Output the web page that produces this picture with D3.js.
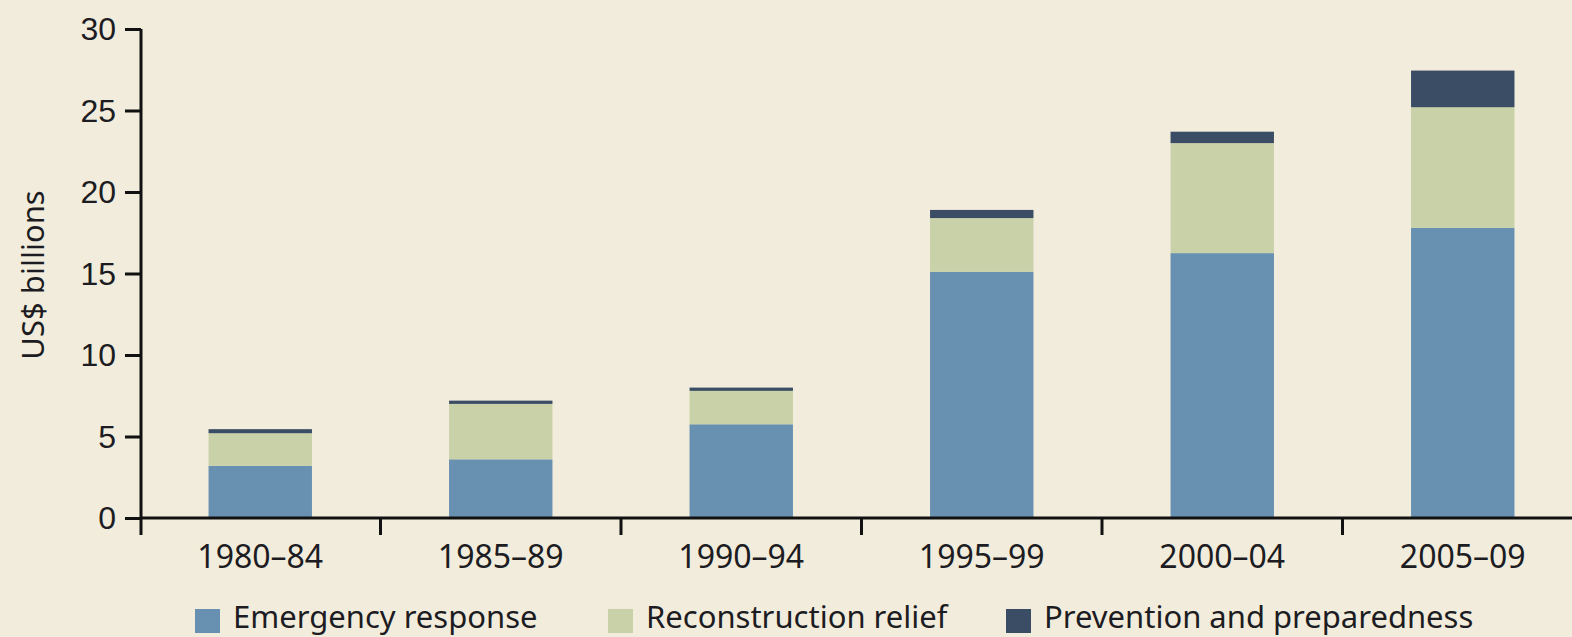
<!DOCTYPE html>
<html>
<head>
<meta charset="utf-8">
<script src="https://cdn.jsdelivr.net/npm/d3@7"></script>
<style>
  html, body { margin: 0; padding: 0; background: #f2ecdc; }
  svg { display: block; font-family: "Noto Sans", sans-serif; }
</style>
</head>
<body>
<div id="chart"></div>
<script>
const periods = ['1980–84', '1985–89', '1990–94', '1995–99', '2000–04', '2005–09']
const emergency = [3.2, 3.6, 5.75, 15.1, 16.25, 17.8]
const reconstruction = [2.0, 3.4, 2.05, 3.3, 6.75, 7.4]
const prevention = [0.25, 0.2, 0.2, 0.5, 0.7, 2.25]
const seriesNames = ['Emergency response', 'Reconstruction relief', 'Prevention and preparedness']
const yTicks = [0, 5, 10, 15, 20, 25, 30]

const W = 1572
const H = 637
const colors = ['#6890b0', '#c9d1a9', '#3a4d64']
const ink = '#1c1c22'

const svg = d3.select('#chart')
  .append('svg')
  .attr('width', W)
  .attr('height', H)

svg.append('rect').attr('width', W).attr('height', H).attr('fill', '#f2ecdc')

const x = d3.scaleBand()
  .domain(periods)
  .range([140, 140 + 240.5 * periods.length])
  .paddingInner(0.57)
  .paddingOuter(0.285)

const y = d3.scaleLinear()
  .domain([0, 30])
  .range([518, 29])

const rows = periods.map((p, i) => ({
  period: p,
  e: emergency[i],
  r: reconstruction[i],
  p: prevention[i]
}))
const stacked = d3.stack().keys(['e', 'r', 'p'])(rows)

svg.append('g')
  .selectAll('g')
  .data(stacked)
  .join('g')
  .attr('fill', (d, i) => colors[i])
  .selectAll('rect')
  .data(d => d)
  .join('rect')
  .attr('x', d => x(d.data.period))
  .attr('width', x.bandwidth())
  .attr('y', d => y(d[1]))
  .attr('height', d => y(d[0]) - y(d[1]))

// y axis
const yAxis = svg.append('g')
  .attr('transform', 'translate(141,0)')
  .call(d3.axisLeft(y).tickValues(yTicks).tickSize(16).tickPadding(9))
yAxis.select('.domain').attr('d', `M0,${y(30)}V535`).attr('stroke', '#111').attr('stroke-width', 3)
yAxis.selectAll('.tick line').attr('stroke', '#111').attr('stroke-width', 3)
yAxis.selectAll('text')
  .attr('font-size', 32)
  .attr('fill', ink)
  .attr('dy', '0.34em')

// x axis line and boundary ticks
const xAxis = svg.append('g')
xAxis.append('line')
  .attr('x1', 141).attr('x2', W)
  .attr('y1', y(0)).attr('y2', y(0))
  .attr('stroke', '#111').attr('stroke-width', 3)
const step = x.step()
xAxis.selectAll('.bt')
  .data(periods.slice(0, -1))
  .join('line')
  .attr('class', 'bt')
  .attr('x1', d => x(d) + x.bandwidth() + (step - x.bandwidth()) / 2)
  .attr('x2', d => x(d) + x.bandwidth() + (step - x.bandwidth()) / 2)
  .attr('y1', y(0)).attr('y2', 535)
  .attr('stroke', '#111').attr('stroke-width', 3)
xAxis.selectAll('text')
  .data(periods)
  .join('text')
  .attr('x', d => x(d) + x.bandwidth() / 2)
  .attr('y', 568)
  .attr('text-anchor', 'middle')
  .attr('font-size', 32)
  .attr('fill', ink)
  .text(d => d)

// y title
svg.append('text')
  .attr('transform', 'translate(44,275) rotate(-90)')
  .attr('text-anchor', 'middle')
  .attr('font-size', 31)
  .attr('fill', ink)
  .text('US$ billions')

// legend
const legendX = [195, 608, 1006]
const legend = svg.append('g')
  .selectAll('g')
  .data(seriesNames)
  .join('g')
  .attr('transform', (d, i) => `translate(${legendX[i]},0)`)
legend.append('rect')
  .attr('y', 609)
  .attr('width', 25)
  .attr('height', 24)
  .attr('fill', (d, i) => colors[i])
legend.append('text')
  .attr('x', 38)
  .attr('y', 628)
  .attr('font-size', 31)
  .attr('fill', ink)
  .text(d => d)
</script>
</body>
</html>
